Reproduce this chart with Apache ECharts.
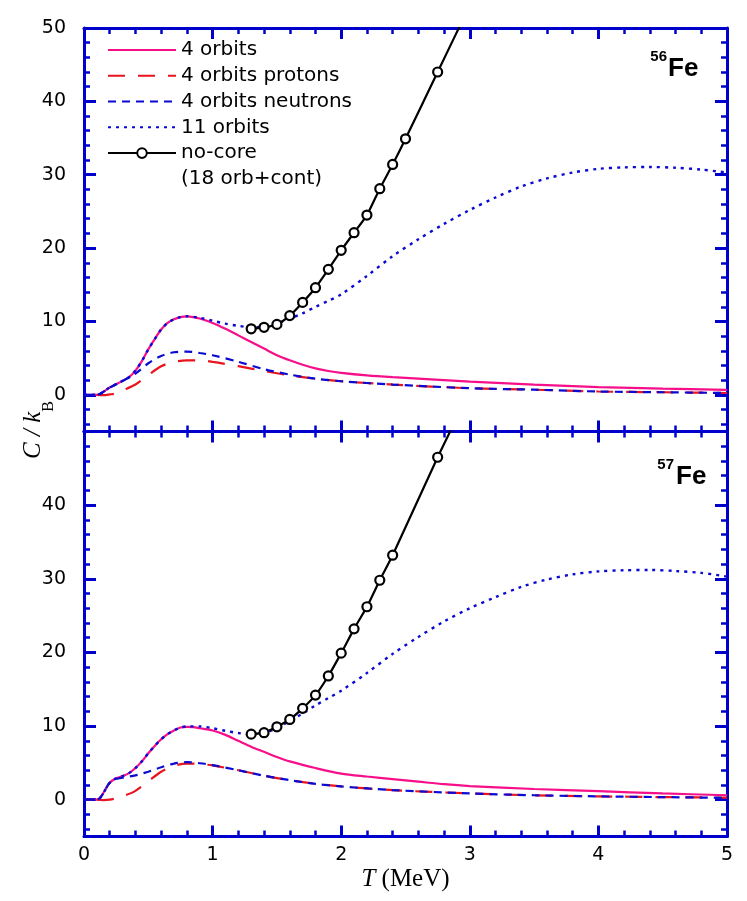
<!DOCTYPE html>
<html><head><meta charset="utf-8">
<script src="https://cdn.jsdelivr.net/npm/echarts@6/dist/echarts.min.js"></script>
<style>html,body{margin:0;padding:0;background:#fff}#c{width:747px;height:901px}</style>
</head><body><div id="c"></div>
<script>
// ---------- 56Fe (top panel) ----------
const fe56_4orb_T = [0, 0.1, 0.2, 0.3, 0.35, 0.4, 0.45, 0.5, 0.55, 0.6, 0.65, 0.7, 0.75, 0.8, 0.85, 0.9, 1.0, 1.1, 1.2, 1.3, 1.4, 1.5, 1.6, 1.7, 1.8, 1.9, 2.0, 2.2, 2.4, 2.6, 2.8, 3.0, 3.5, 4.0, 4.5, 5.0];
const fe56_4orb_C = [0, 0, 1.0, 1.9, 2.4, 3.3, 4.6, 6.2, 7.6, 8.9, 9.8, 10.3, 10.6, 10.7, 10.6, 10.4, 9.8, 9.0, 8.1, 7.2, 6.3, 5.4, 4.7, 4.1, 3.6, 3.25, 3.0, 2.65, 2.4, 2.2, 2.0, 1.8, 1.4, 1.06, 0.85, 0.68];
const fe56_prot_T = [0.1, 0.15, 0.2, 0.25, 0.3, 0.4, 0.5, 0.6, 0.7, 0.8, 0.9, 1.0, 1.2, 1.4, 1.6, 1.8, 2.0, 2.4, 3.0, 3.5, 4.0, 4.5, 5.0];
const fe56_prot_C = [0, -0.05, 0.05, 0.2, 0.6, 1.4, 2.7, 3.9, 4.5, 4.7, 4.7, 4.5, 3.9, 3.25, 2.65, 2.2, 1.85, 1.4, 0.9, 0.7, 0.45, 0.35, 0.25];
const fe56_neut_T = [0, 0.1, 0.2, 0.3, 0.4, 0.5, 0.6, 0.7, 0.8, 0.9, 1.0, 1.2, 1.4, 1.6, 1.8, 2.0, 2.4, 3.0, 3.5, 4.0, 4.5, 5.0];
const fe56_neut_C = [0, 0, 1.0, 1.9, 2.9, 4.3, 5.3, 5.8, 5.9, 5.7, 5.4, 4.5, 3.5, 2.75, 2.2, 1.85, 1.4, 0.9, 0.7, 0.45, 0.35, 0.25];
const fe56_11orb_T = [0, 0.1, 0.2, 0.3, 0.35, 0.4, 0.45, 0.5, 0.55, 0.6, 0.65, 0.7, 0.75, 0.8, 0.9, 1.0, 1.1, 1.2, 1.3, 1.4, 1.5, 1.6, 1.7, 1.8, 1.9, 2.0, 2.2, 2.4, 2.6, 2.8, 3.0, 3.2, 3.4, 3.6, 3.8, 4.0, 4.2, 4.4, 4.6, 4.8, 5.0];
const fe56_11orb_C = [0, 0, 1.0, 1.9, 2.4, 3.3, 4.6, 6.2, 7.6, 8.9, 9.8, 10.3, 10.6, 10.7, 10.5, 10.1, 9.7, 9.4, 9.2, 9.3, 9.7, 10.4, 11.1, 12.0, 12.8, 13.7, 16.2, 18.9, 21.2, 23.3, 25.2, 26.9, 28.4, 29.5, 30.3, 30.8, 31.0, 31.05, 30.95, 30.7, 30.3];
const fe56_nocore_T = [1.3, 1.4, 1.5, 1.6, 1.7, 1.8, 1.9, 2.0, 2.1, 2.2, 2.3, 2.4, 2.5, 2.75, 3.0];
const fe56_nocore_C = [9.0, 9.2, 9.6, 10.8, 12.6, 14.6, 17.1, 19.7, 22.1, 24.5, 28.1, 31.4, 34.9, 44.0, 53.1];

// ---------- 57Fe (bottom panel) ----------
const fe57_4orb_T = [0, 0.1, 0.2, 0.25, 0.3, 0.35, 0.4, 0.45, 0.5, 0.55, 0.6, 0.65, 0.7, 0.75, 0.8, 0.85, 0.9, 1.0, 1.1, 1.2, 1.3, 1.4, 1.5, 1.6, 1.8, 2.0, 2.2, 2.4, 2.6, 2.8, 3.0, 3.5, 4.0, 4.5, 5.0];
const fe57_4orb_C = [0, 0, 2.3, 2.9, 3.2, 3.6, 4.3, 5.2, 6.3, 7.3, 8.2, 8.9, 9.4, 9.8, 9.9, 9.85, 9.7, 9.4, 8.8, 8.0, 7.2, 6.5, 5.8, 5.2, 4.3, 3.55, 3.15, 2.8, 2.45, 2.1, 1.85, 1.45, 1.15, 0.85, 0.6];
const fe57_prot_T = [0.1, 0.15, 0.2, 0.25, 0.3, 0.4, 0.5, 0.6, 0.7, 0.8, 0.9, 1.0, 1.2, 1.4, 1.6, 1.8, 2.0, 2.4, 3.0, 3.5, 4.0, 4.5, 5.0];
const fe57_prot_C = [0, -0.05, 0, 0.2, 0.45, 1.2, 2.5, 3.8, 4.6, 4.9, 4.85, 4.65, 4.0, 3.25, 2.65, 2.15, 1.8, 1.3, 0.85, 0.6, 0.45, 0.35, 0.28];
const fe57_neut_T = [0, 0.1, 0.2, 0.25, 0.3, 0.4, 0.5, 0.6, 0.7, 0.8, 0.9, 1.0, 1.2, 1.4, 1.6, 1.8, 2.0, 2.4, 3.0, 3.5, 4.0, 4.5, 5.0];
const fe57_neut_C = [0, 0, 2.3, 2.8, 3.0, 3.3, 3.8, 4.4, 4.9, 5.1, 4.95, 4.7, 4.0, 3.25, 2.65, 2.15, 1.8, 1.3, 0.85, 0.6, 0.45, 0.35, 0.25];
const fe57_11orb_T = [0, 0.1, 0.2, 0.25, 0.3, 0.35, 0.4, 0.45, 0.5, 0.55, 0.6, 0.65, 0.7, 0.75, 0.8, 0.9, 1.0, 1.1, 1.2, 1.3, 1.4, 1.5, 1.6, 1.7, 1.8, 1.9, 2.0, 2.2, 2.4, 2.6, 2.8, 3.0, 3.2, 3.4, 3.6, 3.8, 4.0, 4.2, 4.4, 4.6, 4.8, 5.0];
const fe57_11orb_C = [0, 0, 2.3, 2.9, 3.2, 3.6, 4.3, 5.2, 6.3, 7.3, 8.2, 8.9, 9.4, 9.8, 9.95, 9.95, 9.7, 9.35, 9.05, 8.9, 9.1, 9.7, 10.7, 11.7, 12.8, 13.8, 14.8, 17.2, 19.8, 22.1, 24.2, 26.0, 27.5, 28.9, 29.9, 30.6, 31.0, 31.15, 31.2, 31.05, 30.8, 30.3];
const fe57_nocore_T = [1.3, 1.4, 1.5, 1.6, 1.7, 1.8, 1.9, 2.0, 2.1, 2.2, 2.3, 2.4, 2.75, 3.0];
const fe57_nocore_C = [8.9, 9.1, 9.9, 10.9, 12.4, 14.2, 16.8, 19.9, 23.2, 26.2, 29.8, 33.2, 46.5, 55.4];

// ---------- ticks / labels ----------
const yMajorTicks = [0, 10, 20, 30, 40, 50];
const yMinorTicks = [-4, -2, 2, 4, 6, 8, 12, 14, 16, 18, 22, 24, 26, 28, 32, 34, 36, 38, 42, 44, 46, 48];
const yLabelsTop = [0, 10, 20, 30, 40, 50];
const yLabelsBottom = [0, 10, 20, 30, 40];
const legendNames = ['4 orbits', '4 orbits protons', '4 orbits neutrons', '11 orbits', 'no-core', '(18 orb+cont)'];

const AX = '#0000cd';
const PINK = '#f70f8a', RED = '#e8141e', BLUE = '#0a0ad2';
const pair = (T, C) => T.map((t, i) => [t, C[i]]);
const HIDE = { color: 'rgba(0,0,0,0)', borderColor: 'rgba(0,0,0,0)', borderWidth: 0, opacity: 0 };

function xAxes(grid, showLabels) {
  const base = {
    type: 'value', gridIndex: grid, min: 0, max: 5, interval: 1,
    axisLine: { show: true, onZero: false, lineStyle: { color: AX, width: 3 } },
    axisTick: { show: true, inside: true, length: 11, lineStyle: { color: AX, width: 3 } },
    minorTick: { show: true, splitNumber: 5, length: 6, lineStyle: { color: AX, width: 2.5 } },
    splitLine: { show: false }, minorSplitLine: { show: false }
  };
  return [
    Object.assign({}, base, {
      position: 'bottom',
      axisLabel: { show: showLabels, margin: 9, color: '#000', fontFamily: 'DejaVu Sans', fontSize: 19 },
      name: showLabels ? '{i|T} (MeV)' : '', nameLocation: 'middle', nameGap: 30,
      nameTextStyle: { color: '#000', fontFamily: 'Liberation Serif', fontSize: 25,
        rich: { i: { fontFamily: 'Liberation Serif', fontStyle: 'italic', fontSize: 25, color: '#000' } } }
    }),
    Object.assign({}, base, { position: 'top', axisLabel: { show: false } })
  ];
}
function yAxes(grid, labels) {
  const mk = (pos, major, withLabels) => ({
    type: 'value', gridIndex: grid, min: -5, max: 50, position: pos,
    axisLine: { show: major, onZero: false, lineStyle: { color: AX, width: 3 } },
    axisTick: { show: true, inside: true, length: major ? 12 : 6, customValues: major ? yMajorTicks : yMinorTicks,
      lineStyle: { color: AX, width: major ? 3 : 2.5 } },
    axisLabel: { show: withLabels, customValues: labels, margin: 18, color: '#000', fontFamily: 'DejaVu Sans', fontSize: 19 },
    splitLine: { show: false }
  });
  return [mk('left', true, true), mk('left', false, false), mk('right', true, false), mk('right', false, false)];
}

function panelSeries(xi, yi, d, withLegendDummy) {
  const s = [
    { name: '4 orbits', type: 'line', xAxisIndex: xi, yAxisIndex: yi, data: pair(d.o4T, d.o4C), smooth: 0.3,
      symbol: 'none', lineStyle: { color: PINK, width: 2.2 }, itemStyle: { color: PINK } },
    { name: '4 orbits protons', type: 'line', xAxisIndex: xi, yAxisIndex: yi, data: pair(d.pT, d.pC), smooth: 0.3,
      symbol: 'none', lineStyle: { color: RED, width: 2.2, type: [17, 13] }, itemStyle: { color: RED } },
    { name: '4 orbits neutrons', type: 'line', xAxisIndex: xi, yAxisIndex: yi, data: pair(d.nT, d.nC), smooth: 0.3,
      symbol: 'none', lineStyle: { color: BLUE, width: 2.2, type: [8, 6] }, itemStyle: { color: BLUE } },
    { name: '11 orbits', type: 'line', xAxisIndex: xi, yAxisIndex: yi, data: pair(d.o11T, d.o11C), smooth: 0.3,
      symbol: 'none', lineStyle: { color: BLUE, width: 2.4, type: [3, 5] }, itemStyle: { color: BLUE } },
    { name: 'no-core', type: 'line', xAxisIndex: xi, yAxisIndex: yi, data: pair(d.ncT, d.ncC), smooth: 0.2,
      symbol: 'circle', symbolSize: 9, showSymbol: true,
      lineStyle: { color: '#000', width: 2.2 }, itemStyle: { color: '#fff', borderColor: '#000', borderWidth: 2.2 } }
  ];
  if (withLegendDummy) {
    s.push({ name: '(18 orb+cont)', type: 'line', xAxisIndex: xi, yAxisIndex: yi, data: [], symbol: 'none',
      lineStyle: { opacity: 0 } });
  }
  return s;
}

const chart = echarts.init(document.getElementById('c'));
chart.setOption({
  animation: false,
  backgroundColor: '#fff',
  grid: [
    { left: 84, right: 20, top: 28, height: 403.5 },
    { left: 84, right: 20, top: 431.5, height: 405 }
  ],
  xAxis: [].concat(xAxes(0, false), xAxes(1, true)),
  yAxis: [].concat(yAxes(0, yLabelsTop), yAxes(1, yLabelsBottom)),
  legend: {
    show: true, orient: 'vertical', left: 102, top: 32, itemWidth: 68, itemHeight: 12, itemGap: 0,
    selectedMode: false,
    textStyle: { color: '#000', fontFamily: 'DejaVu Sans', fontSize: 20, lineHeight: 25.8 },
    data: legendNames.map((n, i) => {
      if (i === legendNames.length - 1) return { name: n, icon: 'none' };
      if (n === 'no-core') return { name: n };
      return { name: n, itemStyle: HIDE };
    })
  },
  series: [].concat(
    panelSeries(0, 0, { o4T: fe56_4orb_T, o4C: fe56_4orb_C, pT: fe56_prot_T, pC: fe56_prot_C, nT: fe56_neut_T, nC: fe56_neut_C,
      o11T: fe56_11orb_T, o11C: fe56_11orb_C, ncT: fe56_nocore_T, ncC: fe56_nocore_C }, true),
    panelSeries(2, 4, { o4T: fe57_4orb_T, o4C: fe57_4orb_C, pT: fe57_prot_T, pC: fe57_prot_C, nT: fe57_neut_T, nC: fe57_neut_C,
      o11T: fe57_11orb_T, o11C: fe57_11orb_C, ncT: fe57_nocore_T, ncC: fe57_nocore_C }, false)
  ),
  graphic: [
    { type: 'text', x: 34, y: 430, rotation: Math.PI / 2,
      style: { text: '{i|C / k}{s|B}', align: 'center', verticalAlign: 'middle',
        rich: { i: { fontFamily: 'Liberation Serif', fontStyle: 'italic', fontSize: 25, lineHeight: 26, verticalAlign: 'top', fill: '#000' },
                s: { fontFamily: 'Liberation Serif', fontSize: 16, lineHeight: 16, padding: [20, 0, 0, 0], verticalAlign: 'top', fill: '#000' } } } },
    { type: 'text', x: 667, y: 64, style: { text: '56', font: 'bold 15px "Liberation Sans"', fill: '#000', align: 'right', verticalAlign: 'bottom' } },
    { type: 'text', x: 668, y: 82, style: { text: 'Fe', font: 'bold 26px "Liberation Sans"', fill: '#000', align: 'left', verticalAlign: 'bottom' } },
    { type: 'text', x: 674, y: 472, style: { text: '57', font: 'bold 15px "Liberation Sans"', fill: '#000', align: 'right', verticalAlign: 'bottom' } },
    { type: 'text', x: 676, y: 490, style: { text: 'Fe', font: 'bold 26px "Liberation Sans"', fill: '#000', align: 'left', verticalAlign: 'bottom' } }
  ]
});
</script>
</body></html>
